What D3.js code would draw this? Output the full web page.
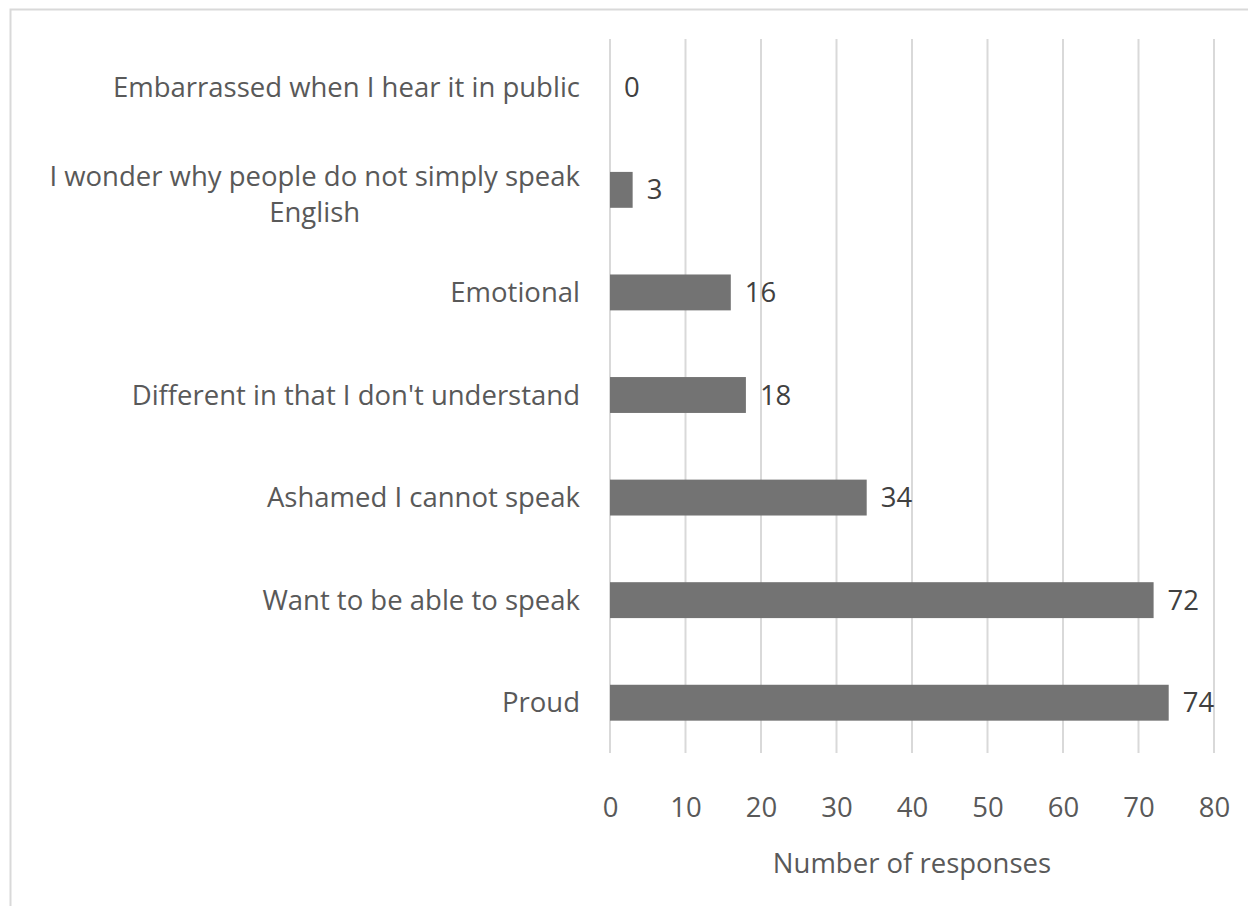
<!DOCTYPE html>
<html>
<head>
<meta charset="utf-8">
<script src="https://cdn.jsdelivr.net/npm/d3@7"></script>
<style>
  body { margin: 0; background: #fff; }
  svg { display: block; font-family: "Open Sans", "Noto Sans", sans-serif; }
</style>
</head>
<body>
<svg id="chart"></svg>
<script>
// chart data, top to bottom
var categories = [
  ['Embarrassed when I hear it in public'],
  ['I wonder why people do not simply speak', 'English'],
  ['Emotional'],
  ["Different in that I don't understand"],
  ['Ashamed I cannot speak'],
  ['Want to be able to speak'],
  ['Proud']
];
var values = [0, 3, 16, 18, 34, 72, 74];
var xTicks = [0, 10, 20, 30, 40, 50, 60, 70, 80];

var width = 1248,
  height = 906,
  fontSize = '27.5px',
  margin = {top: 39, right: 34, bottom: 152, left: 610};

var svg = d3.select('#chart')
  .attr('width', width)
  .attr('height', height);

// chart area border (only top and left visible in frame)
svg.append('rect')
  .attr('x', 10.5).attr('y', 9.5)
  .attr('width', width + 20).attr('height', height + 20)
  .attr('fill', 'none')
  .attr('stroke', '#d9d9d9')
  .attr('stroke-width', 2);

var x = d3.scaleLinear()
  .domain([0, 80])
  .range([margin.left, width - margin.right]);

var y = d3.scaleBand()
  .domain(d3.range(categories.length))
  .range([margin.top - 3, height - margin.bottom])
  .paddingInner(0.65)
  .paddingOuter(0.325);

var plotBottom = height - margin.bottom;

// vertical gridlines
svg.append('g')
  .selectAll('line')
  .data(xTicks)
  .enter().append('line')
    .attr('x1', function(d) { return x(d); })
    .attr('x2', function(d) { return x(d); })
    .attr('y1', margin.top)
    .attr('y2', plotBottom - 1)
    .attr('stroke', '#d9d9d9')
    .attr('stroke-width', 2);

// x axis tick labels
var xAxis = d3.axisBottom(x)
  .tickValues(xTicks)
  .tickSize(0)
  .tickPadding(0);

var ax = svg.append('g')
  .attr('transform', 'translate(0,' + (plotBottom + 43) + ')')
  .call(xAxis);
ax.select('.domain').remove();
ax.selectAll('text')
  .attr('fill', '#595959')
  .attr('font-size', fontSize)
  .attr('font-family', '"Open Sans", sans-serif');

// axis title
svg.append('text')
  .attr('x', (x(0) + x(80)) / 2)
  .attr('y', 873)
  .attr('text-anchor', 'middle')
  .attr('fill', '#595959')
  .attr('font-size', fontSize)
  .text('Number of responses');

// bars
svg.append('g')
  .selectAll('rect')
  .data(values)
  .enter().append('rect')
    .attr('x', x(0))
    .attr('y', function(d, i) { return y(i); })
    .attr('width', function(d) { return x(d) - x(0); })
    .attr('height', y.bandwidth())
    .attr('fill', '#737373');

// value labels
svg.append('g')
  .selectAll('text')
  .data(values)
  .enter().append('text')
    .attr('x', function(d) { return x(d) + 14; })
    .attr('y', function(d, i) { return y(i) + y.bandwidth() / 2; })
    .attr('dy', '0.35em')
    .attr('fill', '#404040')
    .attr('font-size', fontSize)
    .text(function(d) { return d; });

// category labels, wrapped lines centred on the first line
var labelRight = margin.left - 30;
var lineHeight = 36;
var labels = svg.append('g')
  .selectAll('text')
  .data(categories)
  .enter().append('text')
    .attr('fill', '#595959')
    .attr('font-size', fontSize);

labels.each(function(lines, i) {
  var t = d3.select(this);
  var cy = y(i) + y.bandwidth() / 2;
  if (lines.length === 1) {
    t.attr('x', labelRight).attr('y', cy).attr('dy', '0.35em')
      .attr('text-anchor', 'end').text(lines[0]);
  } else {
    // measure first line to find the centre of the block
    t.text(lines[0]);
    var w = this.getComputedTextLength();
    t.text(null);
    var cx = labelRight - w / 2;
    var y0 = cy - 13;
    lines.forEach(function(s, k) {
      t.append('tspan')
        .attr('x', cx)
        .attr('y', y0 + k * lineHeight)
        .attr('dy', '0.35em')
        .attr('text-anchor', 'middle')
        .text(s);
    });
  }
});
</script>
</body>
</html>
